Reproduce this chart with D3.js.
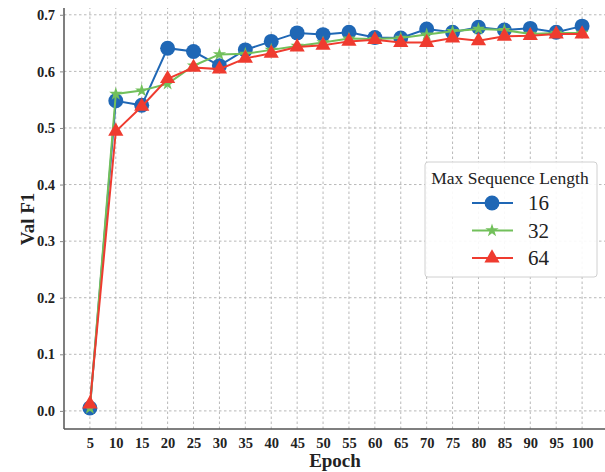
<!DOCTYPE html>
<html><head><meta charset="utf-8">
<script src="https://cdn.jsdelivr.net/npm/d3@7"></script>
<style>body{margin:0;background:#fff}svg{display:block}</style>
</head><body>
<svg id="c" width="605" height="472"></svg>
<script>
const epochs = [5,10,15,20,25,30,35,40,45,50,55,60,65,70,75,80,85,90,95,100];
const len16 = [0.005,0.548,0.540,0.641,0.635,0.610,0.638,0.653,0.668,0.665,0.669,0.660,0.659,0.675,0.669,0.678,0.673,0.676,0.669,0.680];
const len32 = [0.005,0.560,0.566,0.578,0.610,0.630,0.631,0.638,0.645,0.651,0.658,0.657,0.659,0.665,0.671,0.675,0.673,0.666,0.668,0.668];
const len64 = [0.012,0.494,0.538,0.587,0.607,0.604,0.623,0.632,0.643,0.646,0.653,0.656,0.651,0.651,0.659,0.654,0.662,0.663,0.666,0.666];
const seriesNames = ["16","32","64"];
const yTicks = [0.0,0.1,0.2,0.3,0.4,0.5,0.6,0.7];
const legendTitle = "Max Sequence Length";

const series = [
  {name: seriesNames[0], values: len16, color: "#1f67b5", symbol: d3.symbolCircle, size: 175},
  {name: seriesNames[1], values: len32, color: "#72c05b", symbol: d3.symbolStar, size: 55},
  {name: seriesNames[2], values: len64, color: "#ef3b2f", symbol: d3.symbolTriangle, size: 100}
];

const svg = d3.select("#c");
const font = "'Liberation Serif','Times New Roman',serif";
const x = d3.scaleLinear().domain([0, 105]).range([64, 608]);
const y = d3.scaleLinear().domain([-0.032, 0.712]).range([429, 8]);

// grid
const g = svg.append("g");
g.selectAll("line.vg").data(epochs).join("line")
  .attr("x1", d => x(d)).attr("x2", d => x(d)).attr("y1", y.range()[0]).attr("y2", y.range()[1])
  .attr("stroke", "#b8b8b8").attr("stroke-width", 1).attr("stroke-dasharray", "2.5,2.5");
g.selectAll("line.hg").data(yTicks).join("line")
  .attr("x1", x.range()[0]).attr("x2", 605).attr("y1", d => y(d)).attr("y2", d => y(d))
  .attr("stroke", "#b8b8b8").attr("stroke-width", 1).attr("stroke-dasharray", "2.5,2.5");

// axes
const xAxis = svg.append("g").attr("transform", `translate(0,${y.range()[0]})`)
  .call(d3.axisBottom(x).tickValues(epochs).tickSize(0).tickPadding(9));
const yAxis = svg.append("g").attr("transform", `translate(${x.range()[0]},0)`)
  .call(d3.axisLeft(y).tickValues(yTicks).tickFormat(d3.format(".1f")).tickSize(4).tickPadding(5));
[xAxis, yAxis].forEach(a => {
  a.select(".domain").attr("stroke", "#555").attr("stroke-width", 1.5);
  a.selectAll(".tick line").attr("stroke", "#888");
  a.selectAll("text").attr("font-family", font).attr("font-weight", "bold")
    .attr("font-size", 14.5).attr("fill", "#222");
});
yAxis.select(".domain").attr("d", `M0,${y.range()[0]}V${y.range()[1]}`);
xAxis.select(".domain").attr("d", `M${x.range()[0]},0H605`);

// axis labels
svg.append("text").attr("x", 335).attr("y", 467).attr("text-anchor", "middle")
  .attr("font-family", font).attr("font-weight", "bold").attr("font-size", 19).attr("fill", "#222").text("Epoch");
svg.append("text").attr("transform", "translate(34,219) rotate(-90)").attr("text-anchor", "middle")
  .attr("font-family", font).attr("font-weight", "bold").attr("font-size", 19).attr("fill", "#222").text("Val F1");

// lines + markers
const line = d3.line().x((d,i) => x(epochs[i])).y(d => y(d));
series.forEach(s => {
  svg.append("path").datum(s.values).attr("d", line).attr("fill", "none")
    .attr("stroke", s.color).attr("stroke-width", 2);
  svg.append("g").selectAll("path").data(s.values).join("path")
    .attr("transform", (d,i) => `translate(${x(epochs[i])},${y(d)})`)
    .attr("d", d3.symbol().type(s.symbol).size(s.size)).attr("fill", s.color);
});

// legend
const lg = svg.append("g");
lg.append("rect").attr("x", 425).attr("y", 162).attr("width", 172).attr("height", 115).attr("rx", 3)
  .attr("fill", "#fff").attr("fill-opacity", 0.9).attr("stroke", "#d0d0d0").attr("stroke-width", 1);
lg.append("text").attr("x", 510).attr("y", 184).attr("text-anchor", "middle")
  .attr("font-family", font).attr("font-size", 17.5).attr("fill", "#222").text(legendTitle);
series.forEach((s, i) => {
  const cy = 203 + i * 27.5;
  lg.append("line").attr("x1", 472).attr("x2", 513).attr("y1", cy).attr("y2", cy)
    .attr("stroke", s.color).attr("stroke-width", 2);
  lg.append("path").attr("transform", `translate(492,${cy})`)
    .attr("d", d3.symbol().type(s.symbol).size(s.size)).attr("fill", s.color);
  lg.append("text").attr("x", 528).attr("y", cy + 7).attr("font-family", font)
    .attr("font-size", 21).attr("fill", "#222").text(s.name);
});
</script>
</body></html>
